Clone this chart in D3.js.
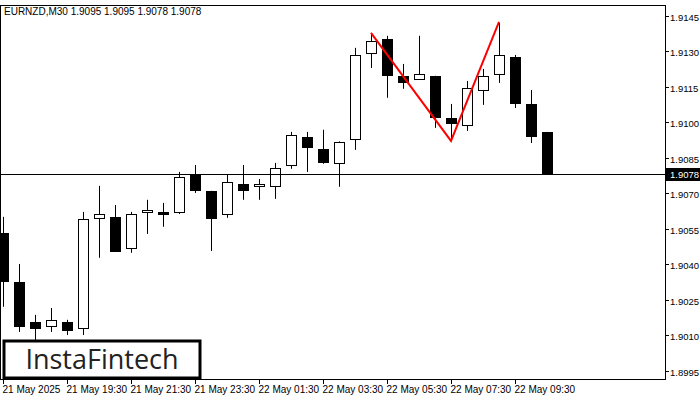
<!DOCTYPE html><html><head><meta charset="utf-8"><script src="https://cdn.jsdelivr.net/npm/d3@7"></script>
<style>body{margin:0;background:#fff}</style></head><body><svg id="c" width="700" height="400"></svg>
<script>
const opens =[1.90533,1.90326,1.90157,1.90140,1.90157,1.90132,1.90597,1.90601,1.90470,1.90622,1.90622,1.90622,1.90778,1.90711,1.90613,1.90740,1.90732,1.90732,1.90820,1.90939,1.90888,1.90829,1.90930,1.91294,1.91353,1.91197,1.91184,1.91197,1.91019,1.90989,1.91137,1.91205,1.91277,1.91078,1.90960];
const highs =[1.90601,1.90402,1.90187,1.90216,1.90166,1.90622,1.90732,1.90651,1.90622,1.90673,1.90660,1.90791,1.90820,1.90711,1.90778,1.90820,1.90761,1.90829,1.90960,1.90960,1.90969,1.90920,1.91315,1.91378,1.91366,1.91247,1.91366,1.91197,1.91078,1.91175,1.91226,1.91420,1.91285,1.91137,1.90960];
const lows  =[1.90221,1.90115,1.90081,1.90115,1.90102,1.90102,1.90428,1.90457,1.90449,1.90529,1.90559,1.90613,1.90702,1.90457,1.90597,1.90673,1.90673,1.90677,1.90804,1.90791,1.90825,1.90728,1.90884,1.91230,1.91104,1.91142,1.91184,1.90977,1.90926,1.90964,1.91074,1.91167,1.91061,1.90913,1.90780];
const closes=[1.90330,1.90140,1.90132,1.90166,1.90123,1.90592,1.90613,1.90457,1.90613,1.90630,1.90613,1.90770,1.90715,1.90597,1.90749,1.90715,1.90740,1.90808,1.90947,1.90897,1.90833,1.90918,1.91285,1.91344,1.91201,1.91171,1.91205,1.91023,1.90998,1.91146,1.91197,1.91285,1.91082,1.90943,1.90780];
const yTicks=[1.9145,1.9130,1.9115,1.9100,1.9085,1.9070,1.9055,1.9040,1.9025,1.9010,1.8995];
const xLabels=[[0,"21 May 2025"],[4,"21 May 19:30"],[8,"21 May 21:30"],[12,"21 May 23:30"],[16,"22 May 01:30"],[20,"22 May 03:30"],[24,"22 May 05:30"],[28,"22 May 07:30"],[32,"22 May 09:30"]];
const pattern=[[23,1.91378],[28,1.90922],[31,1.91425]];
const lastPrice=1.9078;
const svg=d3.select("#c");
const x=d3.scaleLinear().domain([0,1]).range([3,19]);
const y=d3.scaleLinear().domain([1.89916,1.91496]).range([379,5]);
svg.append("defs").append("clipPath").attr("id","cp").append("rect").attr("x",1).attr("y",5).attr("width",664).attr("height",374);
const g=svg.append("g").attr("clip-path","url(#cp)");
svg.append("rect").attr("x",0.5).attr("y",5.5).attr("width",665).attr("height",374).attr("fill","none").attr("stroke","#000");
svg.append("line").attr("x1",0).attr("x2",665).attr("y1",Math.round(y(lastPrice))+0.5).attr("y2",Math.round(y(lastPrice))+0.5).attr("stroke","#000");
opens.forEach((o,i)=>{
  const c=closes[i],cx=Math.round(x(i))+0.5;
  const top=Math.round(y(Math.max(o,c))),bot=Math.round(y(Math.min(o,c)));
  g.append("line").attr("x1",cx).attr("x2",cx).attr("y1",y(highs[i])).attr("y2",y(lows[i])).attr("stroke","#000");
  g.append("rect").attr("x",cx-5).attr("y",top+0.5).attr("width",10).attr("height",Math.max(1,bot-top))
   .attr("fill",c>=o?"#fff":"#000").attr("stroke","#000");
});
svg.append("path").attr("d",d3.line().x(d=>x(d[0])).y(d=>y(d[1]))(pattern)).attr("fill","none").attr("stroke","#f00").attr("stroke-width",2);
const f="font-family:'Liberation Sans',Arial,sans-serif;font-size:10px";
const fy="font-family:'Liberation Sans',Arial,sans-serif;font-size:9.5px";
yTicks.forEach(t=>{const yy=Math.round(y(t))+0.5;
  svg.append("line").attr("x1",665).attr("x2",669).attr("y1",yy).attr("y2",yy).attr("stroke","#000");
  svg.append("text").attr("x",670).attr("y",yy+4).attr("style",fy).text(t.toFixed(4));});
const ly=Math.round(y(lastPrice));
svg.append("rect").attr("x",666).attr("y",ly-6).attr("width",34).attr("height",13).attr("fill","#000");
svg.append("text").attr("x",670).attr("y",ly+4).attr("style",fy).attr("fill","#fff").text(lastPrice.toFixed(4));
xLabels.forEach(([i,l])=>{const xx=Math.round(x(i))+0.5;
  svg.append("line").attr("x1",xx).attr("x2",xx).attr("y1",379).attr("y2",384).attr("stroke","#000");
  svg.append("text").attr("x",xx-1).attr("y",393).attr("style",f).text(l);});
svg.append("text").attr("x",4).attr("y",15).attr("style",f).text("EURNZD,M30  1.9095 1.9095 1.9078 1.9078");
svg.append("rect").attr("x",4).attr("y",341).attr("width",196).attr("height",37).attr("fill","#fff").attr("stroke","#000").attr("stroke-width",3);
svg.append("text").attr("x",102).attr("y",369).attr("text-anchor","middle").attr("style","font-family:'Open Sans',sans-serif;font-size:27px;font-weight:500").attr("fill","#222").text("InstaFintech");
</script></body></html>
